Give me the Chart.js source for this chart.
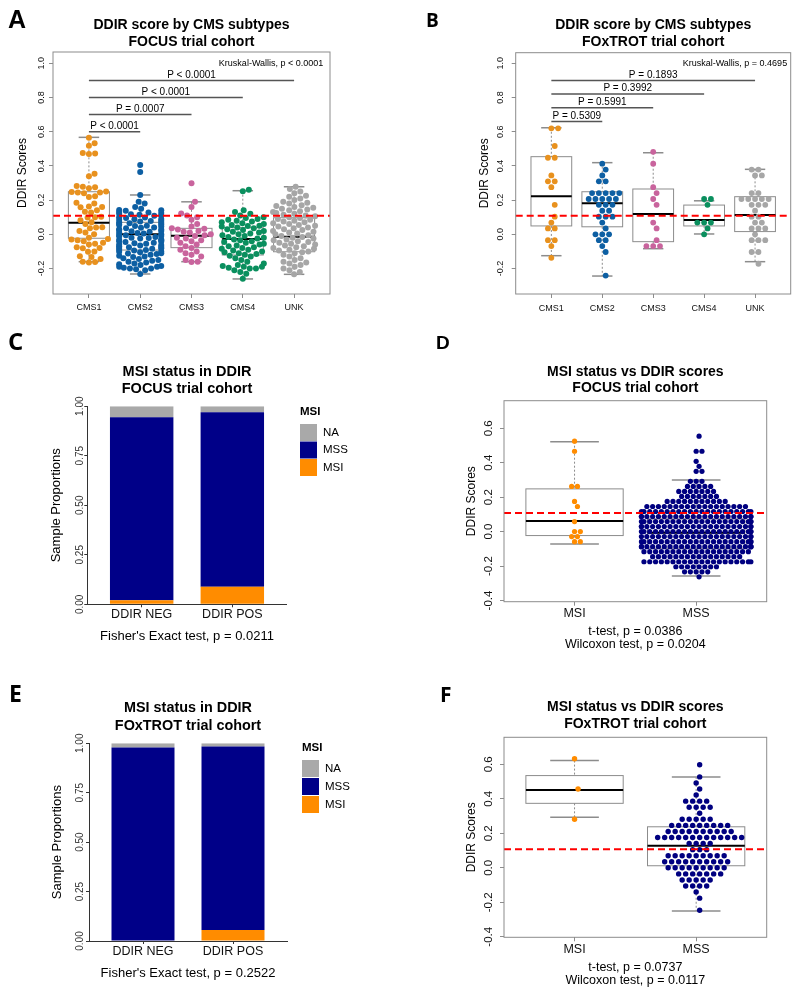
<!DOCTYPE html>
<html>
<head>
<meta charset="utf-8">
<script src="https://cdn.jsdelivr.net/npm/chart.js@4.4.0/dist/chart.umd.min.js"></script>
<style>
  body { margin: 0; background: #fff; width: 800px; height: 996px; position: relative; overflow: hidden; }
  canvas { position: absolute; }
</style>
</head>
<body>
<canvas id="pA" width="400" height="320" style="left:0;top:0"></canvas>
<canvas id="pB" width="400" height="320" style="left:400px;top:0"></canvas>
<canvas id="pC" width="400" height="336" style="left:0;top:320px"></canvas>
<canvas id="pD" width="400" height="336" style="left:400px;top:320px"></canvas>
<canvas id="pE" width="400" height="340" style="left:0;top:656px"></canvas>
<canvas id="pF" width="400" height="340" style="left:400px;top:656px"></canvas>
<script>
// ---- data ----
const cmsGroups = ['CMS1', 'CMS2', 'CMS3', 'CMS4', 'UNK'];
const cmsColors = ['#E8911E', '#0D5FA3', '#C9649D', '#0A8F5E', '#A6A6A6'];
const ddirCutoff = 0.108;
const ddirTicks = [-0.2, 0.0, 0.2, 0.4, 0.6, 0.8, 1.0];
const msiTicks = [-0.4, -0.2, 0.0, 0.2, 0.4, 0.6];
const propTicks = [0, 0.25, 0.5, 0.75, 1];

// panel A: FOCUS, DDIR score by CMS
const focusCms1 = [0.565, 0.532, 0.518, 0.475, 0.472, 0.47, 0.354, 0.339, 0.282, 0.278, 0.275, 0.27, 0.25, 0.248, 0.245, 0.244, 0.24, 0.222, 0.218, 0.185, 0.18, 0.162, 0.16, 0.158, 0.14, 0.132, 0.128, 0.102, 0.1, 0.098, 0.082, 0.07, 0.06, 0.042, 0.04, 0.035, 0.02, 0.01, 0.0, -0.02, -0.028, -0.03, -0.035, -0.04, -0.05, -0.055, -0.06, -0.075, -0.08, -0.082, -0.1, -0.102, -0.128, -0.132, -0.145, -0.16, -0.162, -0.165];
const focusCms2 = [0.405, 0.365, 0.23, 0.19, 0.18, 0.16, 0.15, 0.142, 0.14, 0.138, 0.13, 0.128, 0.125, 0.12, 0.118, 0.115, 0.11, 0.108, 0.1, 0.098, 0.095, 0.09, 0.088, 0.085, 0.08, 0.078, 0.075, 0.07, 0.068, 0.065, 0.06, 0.058, 0.055, 0.05, 0.048, 0.045, 0.04, 0.038, 0.035, 0.03, 0.028, 0.025, 0.02, 0.018, 0.015, 0.01, 0.008, 0.005, 0.0, -0.002, -0.005, -0.01, -0.012, -0.015, -0.02, -0.022, -0.025, -0.03, -0.032, -0.035, -0.04, -0.042, -0.045, -0.05, -0.052, -0.055, -0.06, -0.062, -0.065, -0.07, -0.072, -0.075, -0.08, -0.082, -0.085, -0.09, -0.092, -0.095, -0.1, -0.102, -0.105, -0.11, -0.112, -0.115, -0.12, -0.125, -0.13, -0.132, -0.14, -0.145, -0.15, -0.155, -0.16, -0.165, -0.17, -0.175, -0.18, -0.185, -0.19, -0.19, -0.195, -0.2, -0.2, -0.205, -0.21, -0.232];
const focusCms3 = [0.298, 0.19, 0.16, 0.122, 0.11, 0.1, 0.085, 0.06, 0.045, 0.035, 0.032, 0.028, 0.02, 0.015, 0.01, 0.0, -0.005, -0.01, -0.02, -0.025, -0.035, -0.04, -0.05, -0.06, -0.07, -0.08, -0.09, -0.1, -0.11, -0.12, -0.13, -0.15, -0.16, -0.162];
const focusCms4 = [0.26, 0.252, 0.14, 0.13, 0.12, 0.11, 0.1, 0.095, 0.09, 0.085, 0.08, 0.075, 0.07, 0.065, 0.06, 0.055, 0.05, 0.048, 0.045, 0.04, 0.035, 0.03, 0.025, 0.02, 0.015, 0.01, 0.005, 0.0, -0.005, -0.01, -0.015, -0.02, -0.025, -0.03, -0.035, -0.04, -0.045, -0.05, -0.055, -0.06, -0.065, -0.07, -0.075, -0.08, -0.085, -0.09, -0.095, -0.1, -0.105, -0.11, -0.115, -0.12, -0.125, -0.13, -0.14, -0.15, -0.16, -0.17, -0.18, -0.185, -0.19, -0.19, -0.195, -0.2, -0.2, -0.21, -0.22, -0.23, -0.26];
const focusUnk = [0.278, 0.265, 0.25, 0.24, 0.225, 0.22, 0.21, 0.2, 0.19, 0.185, 0.18, 0.17, 0.165, 0.16, 0.155, 0.15, 0.145, 0.14, 0.135, 0.13, 0.125, 0.12, 0.115, 0.11, 0.105, 0.1, 0.095, 0.09, 0.085, 0.08, 0.075, 0.07, 0.065, 0.06, 0.055, 0.05, 0.045, 0.04, 0.035, 0.03, 0.025, 0.02, 0.015, 0.01, 0.005, 0.0, -0.005, -0.01, -0.015, -0.02, -0.025, -0.03, -0.035, -0.04, -0.045, -0.05, -0.055, -0.06, -0.065, -0.07, -0.075, -0.08, -0.085, -0.09, -0.095, -0.1, -0.105, -0.11, -0.12, -0.13, -0.14, -0.15, -0.16, -0.165, -0.17, -0.18, -0.19, -0.2, -0.21, -0.22, -0.234];
// box stats: [lower whisker, Q1, median, Q3, upper whisker]
const focusCmsBoxes = [[-0.16, -0.023, 0.068, 0.249, 0.567], [-0.232, -0.092, 0.0, 0.07, 0.23], [-0.16, -0.078, -0.008, 0.035, 0.19], [-0.261, -0.121, -0.027, 0.039, 0.255], [-0.234, -0.102, -0.014, 0.097, 0.278]];
const focusPvals = ['P < 0.0001', 'P = 0.0007', 'P < 0.0001', 'P < 0.0001'];
const focusPvalY = [0.6, 0.7, 0.8, 0.9];

// panel B: FOxTROT, DDIR score by CMS
const foxCms1 = [0.623, 0.603, 0.526, 0.458, 0.454, 0.333, 0.304, 0.298, 0.284, 0.158, 0.103, 0.084, 0.049, 0.044, -0.018, -0.018, -0.067, -0.125];
const foxCms2 = [0.419, 0.386, 0.353, 0.298, 0.294, 0.255, 0.25, 0.25, 0.245, 0.245, 0.22, 0.21, 0.19, 0.19, 0.19, 0.18, 0.165, 0.158, 0.13, 0.13, 0.12, 0.12, 0.1, 0.07, 0.025, 0.015, -0.004, -0.004, -0.023, -0.03, -0.053, -0.092, -0.244];
const foxCms3 = [0.477, 0.409, 0.288, 0.249, 0.196, 0.177, 0.064, 0.025, -0.02, -0.064, -0.064, -0.084];
const foxCms4 = [0.196, 0.19, 0.157, 0.084, 0.084, 0.055, 0.04, 0.002];
const foxUnk = [0.385, 0.38, 0.345, 0.34, 0.23, 0.225, 0.22, 0.22, 0.215, 0.19, 0.19, 0.185, 0.165, 0.16, 0.13, 0.12, 0.1, 0.08, 0.065, 0.04, 0.035, 0.02, 0.01, -0.02, -0.03, -0.05, -0.095, -0.1, -0.16];
const foxCmsBoxes = [[-0.125, 0.049, 0.222, 0.454, 0.623], [-0.244, 0.044, 0.181, 0.249, 0.419], [-0.084, -0.043, 0.119, 0.265, 0.477], [0.002, 0.049, 0.084, 0.171, 0.196], [-0.16, 0.016, 0.113, 0.22, 0.38]];
const foxPvals = ['P = 0.5309', 'P = 0.5991', 'P = 0.3992', 'P = 0.1893'];
const foxPvalY = [0.66, 0.74, 0.82, 0.9];

// panels C and E: MSI proportions in DDIR NEG / POS
const ddirGroups = ['DDIR NEG', 'DDIR POS'];
const focusMsi = [0.02, 0.088];
const focusMss = [0.924, 0.882];
const focusNa = [0.056, 0.03];
const foxMsi = [0.0, 0.056];
const foxMss = [0.978, 0.927];
const foxNa = [0.022, 0.017];

// panels D and F: DDIR score by MSI status
const msiGroups = ['MSI', 'MSS'];
const focusMsiScores = [0.522, 0.475, 0.252, 0.248, 0.18, 0.159, 0.062, 0.004, -0.009, -0.023, -0.032, -0.065, -0.068];
const focusMssScores = [0.562, 0.478, 0.474, 0.405, 0.37, 0.352, 0.339, 0.283, 0.28, 0.278, 0.258, 0.255, 0.252, 0.25, 0.248, 0.246, 0.244, 0.242, 0.24, 0.225, 0.222, 0.22, 0.218, 0.215, 0.212, 0.21, 0.195, 0.192, 0.19, 0.188, 0.186, 0.184, 0.18, 0.178, 0.175, 0.172, 0.17, 0.168, 0.165, 0.162, 0.16,
  0.158, 0.155, 0.153, 0.151, 0.15, 0.148, 0.146, 0.145, 0.143, 0.142, 0.14, 0.139, 0.137, 0.136, 0.134, 0.133, 0.132, 0.13,
  0.129, 0.128, 0.126, 0.125, 0.123, 0.122, 0.121, 0.12, 0.119, 0.117, 0.116, 0.114, 0.113, 0.112, 0.11, 0.109, 0.108, 0.106, 0.105, 0.103, 0.102, 0.101,
  0.099, 0.098, 0.096, 0.095, 0.094, 0.092, 0.091, 0.09, 0.089, 0.087, 0.086, 0.084, 0.083, 0.081, 0.08, 0.079, 0.078, 0.076, 0.075, 0.073, 0.072, 0.071, 0.07,
  0.069, 0.067, 0.066, 0.064, 0.063, 0.062, 0.06, 0.059, 0.058, 0.056, 0.055, 0.054, 0.052, 0.051, 0.05, 0.049, 0.047, 0.046, 0.045, 0.043, 0.042, 0.04,
  0.039, 0.038, 0.036, 0.035, 0.034, 0.032, 0.031, 0.03, 0.029, 0.027, 0.026, 0.024, 0.023, 0.021, 0.02, 0.019, 0.018, 0.016, 0.015, 0.014, 0.012, 0.011, 0.01,
  0.009, 0.007, 0.006, 0.005, 0.003, 0.002, 0.0, -0.001, -0.002, -0.004, -0.005, -0.007, -0.008, -0.009, -0.01, -0.011, -0.013, -0.014, -0.016, -0.017, -0.019, -0.02,
  -0.021, -0.022, -0.024, -0.025, -0.027, -0.028, -0.029, -0.03, -0.031, -0.033, -0.034, -0.036, -0.037, -0.039, -0.04, -0.041, -0.042, -0.044, -0.045, -0.047, -0.048, -0.049, -0.05,
  -0.051, -0.053, -0.054, -0.056, -0.057, -0.059, -0.06, -0.061, -0.062, -0.064, -0.065, -0.067, -0.068, -0.069, -0.07, -0.071, -0.073, -0.074, -0.076, -0.077, -0.079, -0.08,
  -0.081, -0.082, -0.084, -0.085, -0.087, -0.088, -0.089, -0.09, -0.091, -0.093, -0.094, -0.096, -0.097, -0.099, -0.1, -0.101, -0.102, -0.104, -0.105, -0.107, -0.108, -0.11,
  -0.111, -0.113, -0.114, -0.116, -0.117, -0.119, -0.12, -0.121, -0.123, -0.124, -0.126, -0.128, -0.13, -0.131, -0.133, -0.135, -0.136, -0.138, -0.14,
  -0.141, -0.143, -0.145, -0.147, -0.148, -0.15, -0.152, -0.154, -0.156, -0.158, -0.16, -0.162, -0.164, -0.166, -0.168, -0.17,
  -0.172, -0.174, -0.175, -0.177, -0.178, -0.18, -0.181, -0.182, -0.183, -0.184, -0.185, -0.186, -0.187, -0.188, -0.189, -0.19, -0.192, -0.195, -0.198, -0.2, -0.205, -0.21, -0.215, -0.22, -0.222, -0.225, -0.23, -0.24, -0.258];
const focusMsiBoxes = [[-0.072, -0.023, 0.062, 0.248, 0.522], [-0.258, -0.097, -0.006, 0.074, 0.3]];
const foxMsiScores = [0.622, 0.452, 0.293];
const foxMssScores = [0.604, 0.527, 0.475, 0.456, 0.42, 0.404, 0.384, 0.38, 0.37, 0.355, 0.345, 0.34, 0.335, 0.3, 0.297, 0.29, 0.29, 0.288, 0.265, 0.262, 0.26, 0.258, 0.256, 0.255, 0.25, 0.243, 0.236, 0.232, 0.228, 0.226, 0.222, 0.22, 0.215, 0.21, 0.2, 0.198, 0.196, 0.195, 0.192, 0.19, 0.19, 0.188, 0.186, 0.184, 0.18, 0.176, 0.17, 0.168, 0.166, 0.164, 0.16, 0.158, 0.128, 0.126, 0.124, 0.12, 0.118, 0.112, 0.084, 0.08, 0.078, 0.076, 0.074, 0.07, 0.067, 0.064, 0.06, 0.048, 0.046, 0.044, 0.042, 0.04, 0.037, 0.034, 0.03, 0.028, 0.025, 0.015, 0.01, 0.008, 0.005, 0.002, 0.0, -0.004, -0.008, -0.012, -0.022, -0.026, -0.03, -0.034, -0.038, -0.042, -0.045, -0.06, -0.066, -0.072, -0.078, -0.085, -0.09, -0.105, -0.112, -0.118, -0.125, -0.16, -0.25];
const foxMsiBoxes = [[0.293, 0.374, 0.452, 0.535, 0.622], [-0.25, 0.012, 0.128, 0.238, 0.527]];

const SANS = "'Liberation Sans', Arial, sans-serif";
Chart.defaults.font.family = SANS;
Chart.defaults.color = '#000';

// boxplots drawn under the points, from the box stats through the chart scales
const boxPlugin = {
  id: 'boxes',
  beforeDatasetsDraw(chart, args, o) {
    if (!o.stats) return;
    const { ctx, scales: { x, y } } = chart;
    const seg = (x1, y1, x2, y2) => { ctx.beginPath(); ctx.moveTo(x1, y1); ctx.lineTo(x2, y2); ctx.stroke(); };
    ctx.save();
    o.stats.forEach((s, i) => {
      const c = i + 1;
      const xc = x.getPixelForValue(c);
      const xl = x.getPixelForValue(c - 0.4), xr = x.getPixelForValue(c + 0.4);
      const cl = x.getPixelForValue(c - 0.2), cr = x.getPixelForValue(c + 0.2);
      const [lo, q1, med, q3, hi] = s.map(v => y.getPixelForValue(v));
      ctx.strokeStyle = o.color;
      ctx.lineWidth = 1;
      ctx.setLineDash([2, 2]);
      seg(xc, hi, xc, q3);
      seg(xc, q1, xc, lo);
      ctx.setLineDash([]);
      ctx.lineWidth = 1.5;
      seg(cl, hi, cr, hi);
      seg(cl, lo, cr, lo);
      ctx.lineWidth = 1;
      ctx.strokeRect(xl, q3, xr - xl, q1 - q3);
      ctx.strokeStyle = '#000';
      ctx.lineWidth = 2;
      seg(xl, med, xr, med);
    });
    ctx.restore();
  }
};

// cutoff line, p-value brackets, notes, frame, panel letter
const marksPlugin = {
  id: 'marks',
  afterDatasetsDraw(chart, args, o) {
    const { ctx, chartArea: a, scales: { x, y } } = chart;
    ctx.save();
    if (o.cutoff !== undefined) {
      const py = y.getPixelForValue(o.cutoff);
      ctx.strokeStyle = '#FF0000';
      ctx.lineWidth = 2;
      ctx.setLineDash([7, 4]);
      ctx.beginPath(); ctx.moveTo(a.left, py); ctx.lineTo(a.right, py); ctx.stroke();
      ctx.setLineDash([]);
    }
    (o.brackets || []).forEach(b => {
      const py = y.getPixelForValue(b.y);
      const x1 = x.getPixelForValue(b.from), x2 = x.getPixelForValue(b.to);
      ctx.strokeStyle = '#555';
      ctx.lineWidth = 1.5;
      ctx.beginPath(); ctx.moveTo(x1, py); ctx.lineTo(x2, py); ctx.stroke();
      ctx.fillStyle = '#000';
      ctx.font = '10px ' + SANS;
      ctx.textAlign = 'center';
      ctx.textBaseline = 'middle';
      ctx.fillText(b.text, (x1 + x2) / 2, py - 5.5);
    });
    if (o.note) {
      ctx.fillStyle = '#000';
      ctx.font = '9px ' + SANS;
      ctx.textAlign = 'right';
      ctx.textBaseline = 'middle';
      ctx.fillText(o.note.text, x.getPixelForValue(o.note.x), y.getPixelForValue(o.note.y));
    }
    if (o.frame) {
      ctx.strokeStyle = o.frame;
      ctx.lineWidth = 1;
      ctx.strokeRect(a.left, a.top, a.right - a.left, a.bottom - a.top);
    }
    ctx.restore();
  },
  afterDraw(chart, args, o) {
    if (!o.letter) return;
    const ctx = chart.ctx;
    ctx.save();
    ctx.fillStyle = '#000';
    ctx.font = o.letter.font;
    ctx.textAlign = 'left';
    ctx.textBaseline = 'alphabetic';
    ctx.fillText(o.letter.text, o.letter.x, o.letter.y);
    ctx.restore();
  }
};

// ggplot style key for the stacked bars
const keyPlugin = {
  id: 'msiKey',
  afterDraw(chart, args, o) {
    if (!o.x) return;
    const ctx = chart.ctx;
    ctx.save();
    ctx.textAlign = 'left';
    ctx.textBaseline = 'middle';
    ctx.fillStyle = '#000';
    ctx.font = 'bold 11.5px ' + SANS;
    ctx.fillText('MSI', o.x, o.titleY);
    ctx.font = '11.5px ' + SANS;
    chart.data.datasets.slice().reverse().forEach((ds, i) => {
      const top = o.y + i * o.step;
      ctx.fillStyle = ds.backgroundColor;
      ctx.fillRect(o.x, top, o.box, o.box);
      ctx.fillStyle = '#000';
      ctx.fillText(ds.label, o.x + o.box + 6, top + o.box / 2);
    });
    ctx.restore();
  }
};

// beeswarm "swarm" layout: each point goes to the free spot nearest the centre line
function swarmLayout(py, gap, limit) {
  const order = py.map((_, i) => i).sort((a, b) => py[b] - py[a]);
  const placed = [];
  const off = [];
  order.forEach(i => {
    const yy = py[i];
    const near = placed.filter(p => Math.abs(p.y - yy) < gap);
    const cands = [0];
    near.forEach(p => {
      const dx = Math.sqrt(gap * gap - (p.y - yy) ** 2);
      cands.push(p.x + dx, p.x - dx);
    });
    cands.sort((a, b) => Math.abs(a) - Math.abs(b));
    let xx = cands.find(c => near.every(p => (p.x - c) ** 2 + (p.y - yy) ** 2 >= gap * gap - 0.01));
    if (xx === undefined) xx = 0;
    if (Math.abs(xx) > limit) xx = Math.sign(xx) * limit;
    placed.push({ x: xx, y: yy });
    off[i] = xx;
  });
  return { off, rowY: py.slice() };
}

// beeswarm "hex" layout: values binned into staggered rows, filled outward from the centre
function hexLayout(py, base, gap, limit) {
  const h = gap * Math.sqrt(3) / 2;
  const rows = new Map();
  py.forEach((p, i) => {
    const r = Math.round((p - base) / h);
    if (!rows.has(r)) rows.set(r, []);
    rows.get(r).push(i);
  });
  const off = [], rowY = [];
  rows.forEach((idx, r) => {
    const odd = Math.abs(r) % 2 === 1;
    const slots = [];
    for (let k = 0; slots.length < idx.length + 1; k++) {
      if (odd) { slots.push(k + 0.5, -(k + 0.5)); }
      else if (k === 0) { slots.push(0); }
      else { slots.push(k, -k); }
    }
    idx.forEach((i, k) => {
      let dx = slots[k] * gap;
      if (Math.abs(dx) > limit) dx = Math.sign(dx) * limit;
      off[i] = dx;
      rowY[i] = base + r * h;
    });
  });
  return { off, rowY };
}

function applySwarm(chart, method, gap, corral) {
  const xs = chart.scales.x, ys = chart.scales.y;
  const base = ys.getPixelForValue(0);
  chart.data.datasets.forEach(ds => {
    const cx = xs.getPixelForValue(ds.center);
    const lim = Math.abs(xs.getPixelForValue(ds.center + corral) - cx);
    const py = ds.values.map(v => ys.getPixelForValue(v));
    const { off, rowY } = method === 'hex' ? hexLayout(py, base, gap, lim) : swarmLayout(py, gap, lim);
    ds.data = ds.values.map((v, k) => ({ x: xs.getValueForPixel(cx + off[k]), y: ys.getValueForPixel(rowY[k]) }));
  });
  chart.update('none');
}

function makeBoxPanel(id, p) {
  const chart = new Chart(document.getElementById(id), {
    type: 'scatter',
    data: {
      datasets: p.groups.map((vals, i) => ({
        label: p.cats[i], values: vals, center: i + 1,
        data: vals.map(v => ({ x: i + 1, y: v })),
        backgroundColor: p.colors[i], borderWidth: 0,
        pointRadius: p.radius, pointHoverRadius: p.radius
      }))
    },
    options: {
      responsive: false, animation: false, events: [],
      layout: { padding: { left: 0, top: 0, right: 400 - p.area[1], bottom: 0 } },
      plugins: {
        legend: { display: false }, tooltip: { enabled: false },
        title: {
          display: true, text: p.title, fullSize: false, color: '#000',
          font: { size: 14, weight: 'bold', lineHeight: 1.2 },
          padding: { top: p.titlePad[0], bottom: p.titlePad[1] }
        },
        boxes: { stats: p.stats, color: '#8c8c8c' },
        marks: { cutoff: ddirCutoff, brackets: p.brackets, note: p.note, frame: '#8c8c8c', letter: p.letter }
      },
      scales: {
        x: {
          type: 'linear', min: p.xRange[0], max: p.xRange[1], offset: false,
          afterBuildTicks: s => { s.ticks = p.cats.map((c, i) => ({ value: i + 1 })); },
          afterFit: s => { s.height = p.H - p.area[3]; },
          ticks: { callback: v => p.cats[Math.round(v) - 1], font: { size: p.xTickSize }, color: '#111', padding: p.xTickPad, maxRotation: 0, autoSkip: false },
          grid: { drawOnChartArea: false, offset: false, tickLength: 4, color: '#8c8c8c' },
          border: { display: false },
          title: p.xTitle ? { display: true, text: p.xTitle, color: '#000', font: { size: 12.5, lineHeight: 1.04 }, padding: { top: 0, bottom: p.xTitlePad } } : { display: false }
        },
        y: {
          min: p.yRange[0], max: p.yRange[1],
          afterBuildTicks: s => { s.ticks = p.yTicks.map(v => ({ value: v })); },
          afterFit: s => { s.width = p.area[0]; },
          ticks: { callback: v => v.toFixed(1), font: { size: p.yTickSize }, color: '#111', minRotation: 90, maxRotation: 90, crossAlign: 'center', padding: p.yTickPad, autoSkip: false },
          grid: { drawOnChartArea: false, tickLength: 4, color: '#8c8c8c' },
          border: { display: false },
          title: { display: true, text: 'DDIR Scores', color: '#000', font: { size: 12 }, padding: { top: p.yTitlePad, bottom: 0 } }
        }
      }
    },
    plugins: [boxPlugin, marksPlugin]
  });
  applySwarm(chart, p.method, p.gap, p.corral);
  return chart;
}

function makeBarPanel(id, p) {
  const pts = arr => arr.map((v, i) => ({ x: i + 1, y: v }));
  return new Chart(document.getElementById(id), {
    type: 'bar',
    data: {
      datasets: [
        { label: 'MSI', data: pts(p.msi), backgroundColor: '#FF8C00' },
        { label: 'MSS', data: pts(p.mss), backgroundColor: '#000088' },
        { label: 'NA', data: pts(p.na), backgroundColor: '#A9A9A9' }
      ]
    },
    options: {
      responsive: false, animation: false, events: [],
      datasets: { bar: { barPercentage: 0.7, categoryPercentage: 1, borderWidth: 0 } },
      layout: { padding: { left: 0, top: 0, right: 400 - p.area[1], bottom: 0 } },
      plugins: {
        legend: { display: false }, tooltip: { enabled: false },
        title: {
          display: true, text: p.title, fullSize: false, color: '#000',
          font: { size: p.titleSize, weight: 'bold', lineHeight: 1.2 },
          padding: { top: p.titlePad[0], bottom: p.titlePad[1] }
        },
        msiKey: p.key,
        marks: { letter: p.letter }
      },
      scales: {
        x: {
          type: 'linear', stacked: true, min: 0.4, max: 2.6, offset: false,
          afterBuildTicks: s => { s.ticks = ddirGroups.map((g, i) => ({ value: i + 1 })); },
          afterFit: s => { s.height = p.H - p.area[3]; },
          ticks: { callback: v => ddirGroups[Math.round(v) - 1], font: { size: 12.5 }, color: '#111', padding: p.xTickPad, maxRotation: 0, autoSkip: false },
          grid: { drawOnChartArea: false, offset: false, tickLength: 3, color: '#333' },
          border: { display: true, color: '#333', width: 1 },
          title: { display: true, text: p.fisher, color: '#000', font: { size: 13, lineHeight: 1.2 }, padding: { top: 0, bottom: p.xTitlePad } }
        },
        y: {
          stacked: true, min: 0, max: 1,
          afterBuildTicks: s => { s.ticks = propTicks.map(v => ({ value: v })); },
          afterFit: s => { s.width = p.area[0]; },
          ticks: { callback: v => v.toFixed(2), font: { size: 10 }, color: '#333', minRotation: 90, maxRotation: 90, crossAlign: 'center', padding: p.yTickPad, autoSkip: false },
          grid: { drawOnChartArea: false, tickLength: 3, color: '#333' },
          border: { display: true, color: '#333', width: 1 },
          title: { display: true, text: 'Sample Proportions', color: '#000', font: { size: 13 }, padding: { top: p.yTitlePad, bottom: 0 } }
        }
      }
    },
    plugins: [keyPlugin, marksPlugin]
  });
}

const brackets = (labels, ys) => labels.map((t, i) => ({ from: 1, to: i + 2, y: ys[i], text: t }));

makeBoxPanel('pA', {
  H: 320, area: [53, 330, 52, 294], xRange: [0.3, 5.7], yRange: [-0.349, 1.066], yTicks: ddirTicks,
  title: ['DDIR score by CMS subtypes', 'FOCUS trial cohort'], titlePad: [16.6, 1.8],
  cats: cmsGroups, colors: cmsColors, groups: [focusCms1, focusCms2, focusCms3, focusCms4, focusUnk],
  stats: focusCmsBoxes, brackets: brackets(focusPvals, focusPvalY),
  note: { text: 'Kruskal-Wallis, p < 0.0001', x: 5.57, y: 1.0 },
  radius: 3, method: 'swarm', gap: 6.2, corral: 0.41,
  xTickSize: 9, xTickPad: 4.6, yTickSize: 9, yTickPad: 0, yTitlePad: 15.8,
  letter: { text: 'A', x: 8, y: 27.7, font: 'bold 25px ' + SANS }
});

makeBoxPanel('pB', {
  H: 320, area: [115.7, 390.7, 52.7, 294], xRange: [0.3, 5.7], yRange: [-0.349, 1.062], yTicks: ddirTicks,
  title: ['DDIR score by CMS subtypes', 'FOxTROT trial cohort'], titlePad: [16.6, 2.5],
  cats: cmsGroups, colors: cmsColors, groups: [foxCms1, foxCms2, foxCms3, foxCms4, foxUnk],
  stats: foxCmsBoxes, brackets: brackets(foxPvals, foxPvalY),
  note: { text: 'Kruskal-Wallis, p = 0.4695', x: 5.63, y: 1.0 },
  radius: 2.9, method: 'hex', gap: 6.8, corral: 0.45,
  xTickSize: 9, xTickPad: 4.9, yTickSize: 9, yTickPad: 3, yTitlePad: 77.8,
  letter: { text: 'B', x: 26, y: 26.7, font: "bold 19px 'Open Sans', sans-serif" }
});

makeBarPanel('pC', {
  H: 336, area: [87.3, 286.7, 86.7, 284.3],
  title: ['MSI status in DDIR', 'FOCUS trial cohort'], titleSize: 14.5, titlePad: [43.2, 8.2],
  msi: focusMsi, mss: focusMss, na: focusNa, fisher: "Fisher's Exact test, p = 0.0211",
  xTickPad: 0.2, xTitlePad: 11.7, yTickPad: -5.4, yTitlePad: 48.2,
  key: { x: 300, titleY: 92.3, y: 104, step: 17.5, box: 17 },
  letter: { text: 'C', x: 8, y: 30.3, font: "bold 24px 'Open Sans', sans-serif" }
});

makeBoxPanel('pD', {
  H: 336, area: [104, 366.7, 80.7, 281.7], xRange: [0.42, 2.58], yRange: [-0.407, 0.76], yTicks: msiTicks,
  title: ['MSI status vs DDIR scores', 'FOCUS trial cohort'], titlePad: [43.3, 3.8],
  cats: msiGroups, colors: ['#FF8C00', '#000080'], groups: [focusMsiScores, focusMssScores],
  stats: focusMsiBoxes, radius: 2.6, method: 'hex', gap: 5.8, corral: 0.45,
  xTickSize: 12.5, xTickPad: 0.8, yTickSize: 11.5, yTickPad: 1, yTitlePad: 64.5,
  xTitle: ['t-test, p = 0.0386', 'Wilcoxon test, p = 0.0204'], xTitlePad: 4.8,
  letter: { text: 'D', x: 36, y: 29.3, font: 'bold 19px ' + SANS }
});

makeBarPanel('pE', {
  H: 340, area: [89, 287, 87.3, 285],
  title: ['MSI status in DDIR', 'FOxTROT trial cohort'], titleSize: 14.4, titlePad: [43.65, 9.05],
  msi: foxMsi, mss: foxMss, na: foxNa, fisher: "Fisher's Exact test, p = 0.2522",
  xTickPad: 0.5, xTitlePad: 14.9, yTickPad: -4.2, yTitlePad: 49.2,
  key: { x: 302, titleY: 92.3, y: 104, step: 18, box: 17 },
  letter: { text: 'E', x: 9, y: 45.7, font: "bold 23px 'Open Sans', sans-serif" }
});

makeBoxPanel('pF', {
  H: 340, area: [104, 366.7, 81.3, 281.3], xRange: [0.42, 2.58], yRange: [-0.403, 0.757], yTicks: msiTicks,
  title: ['MSI status vs DDIR scores', 'FOxTROT trial cohort'], titlePad: [42.9, 4.8],
  cats: msiGroups, colors: ['#FF8C00', '#000080'], groups: [foxMsiScores, foxMssScores],
  stats: foxMsiBoxes, radius: 2.7, method: 'hex', gap: 7, corral: 0.45,
  xTickSize: 12.5, xTickPad: 1.2, yTickSize: 11.5, yTickPad: 1, yTitlePad: 64.5,
  xTitle: ['t-test, p = 0.0737', 'Wilcoxon test, p = 0.0117'], xTitlePad: 8.8,
  letter: { text: 'F', x: 40, y: 45.7, font: "bold 21px 'Open Sans', sans-serif" }
});
</script>
</body>
</html>
